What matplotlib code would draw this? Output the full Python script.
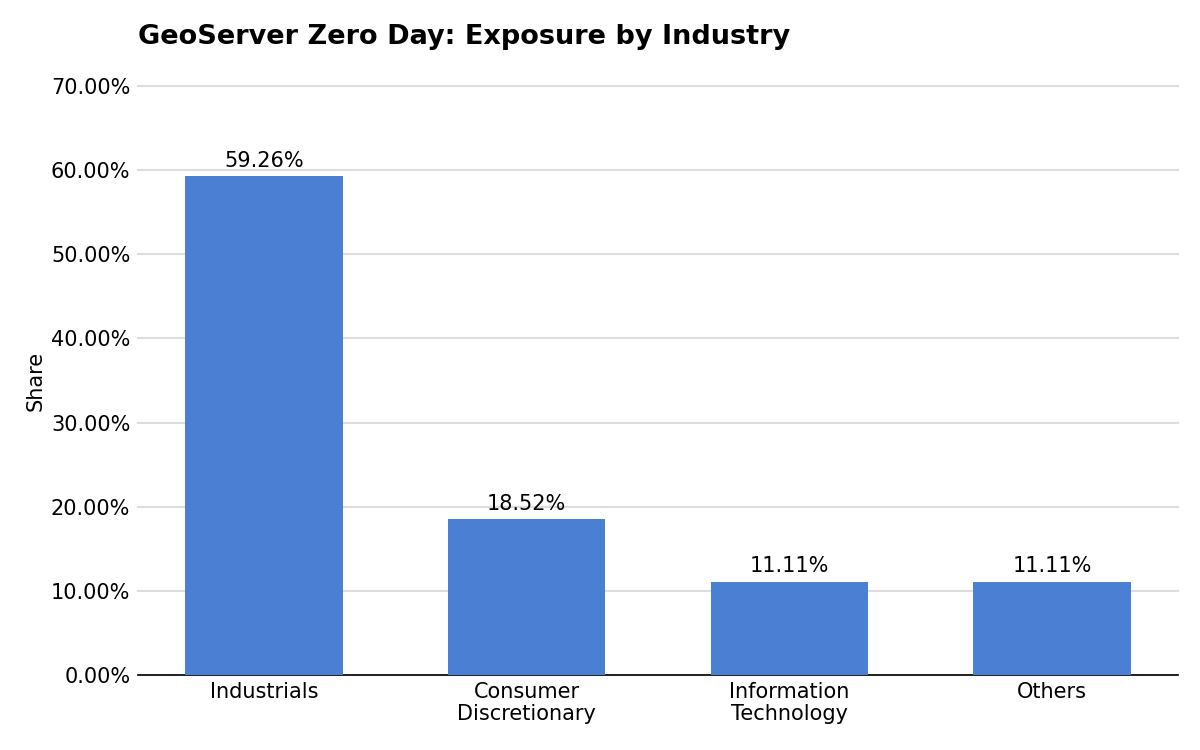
import matplotlib
matplotlib.use("Agg")
import matplotlib.pyplot as plt
from matplotlib.ticker import PercentFormatter

categories = ["Industrials", "Consumer\nDiscretionary", "Information\nTechnology", "Others"]
shares = [59.26, 18.52, 11.11, 11.11]
title = "GeoServer Zero Day: Exposure by Industry"

fs = 15
fig = plt.figure(figsize=(12, 7.5), dpi=100)
ax = fig.add_axes([0.115, 0.1, 0.8667, 0.7853])

x = list(range(len(categories)))
bars = ax.bar(x, shares, width=0.6, color="#4a7fd4", zorder=3)
for xi, v in zip(x, shares):
    ax.text(xi, v + 0.6, f"{v:.2f}%", ha="center", va="bottom", fontsize=fs)

ax.set_xlim(-0.48, 3.48)
ax.set_ylim(0, 70)
ax.set_yticks([0, 10, 20, 30, 40, 50, 60, 70])
ax.yaxis.set_major_formatter(PercentFormatter(decimals=2))
ax.set_xticks(x)
ax.set_xticklabels(categories, fontsize=fs, linespacing=1.1)
ax.tick_params(axis="y", labelsize=fs, length=0, pad=5.5)
ax.tick_params(axis="x", length=0, pad=5)
ax.grid(axis="y", color="#dddddd", linewidth=1.5, zorder=0)
for gl in ax.get_ygridlines():
    gl.set_clip_on(False)
ax.set_axisbelow(True)
for s in ["top", "right", "left"]:
    ax.spines[s].set_visible(False)
ax.spines["bottom"].set_color("black")
ax.spines["bottom"].set_linewidth(1.2)
ax.set_ylabel("Share", fontsize=fs, labelpad=4)
fig.text(0.115, 0.951, title, fontsize=19.5, fontweight="bold", ha="left", va="center")

fig.savefig("out.png", dpi=100)
